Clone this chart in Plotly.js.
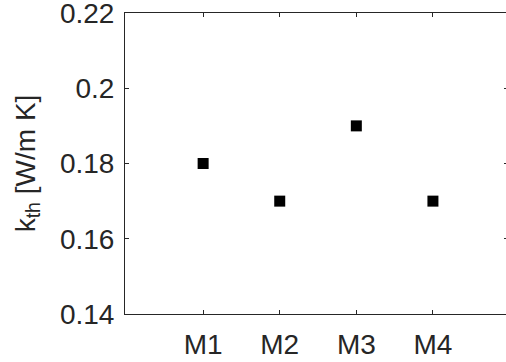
<!DOCTYPE html>
<html>
<head>
<meta charset="utf-8">
<script src="https://cdn.plot.ly/plotly-3.0.1.min.js"></script>
<style>
html,body{margin:0;padding:0;overflow:hidden;background:#fff;}
#chart{width:510px;height:362px;}
</style>
</head>
<body>
<div id="chart"></div>
<script>
const categories = ["M1", "M2", "M3", "M4"];
const positions = [1, 2, 3, 4];
const kth = [0.18, 0.17, 0.19, 0.17];
const yTicks = [0.14, 0.16, 0.18, 0.2, 0.22];
const yTickText = ["0.14", "0.16", "0.18", "0.2", "0.22"];

const axisColor = "#262626";
const fontFamily = "Liberation Sans, Arial, sans-serif";
const fs = 28;

const trace = {
  x: positions,
  y: kth,
  type: "scatter",
  mode: "markers",
  marker: {symbol: "square", size: 11, color: "#000000", line: {width: 0}},
  showlegend: false,
  hoverinfo: "skip"
};

const layout = {
  width: 510,
  height: 362,
  margin: {l: 125, r: 2, t: 13, b: 48, pad: 0},
  paper_bgcolor: "#ffffff",
  plot_bgcolor: "#ffffff",
  font: {family: fontFamily, color: axisColor, size: fs},
  xaxis: {
    range: [-0.02, 4.98],
    tickvals: positions,
    ticktext: categories,
    ticks: "inside",
    ticklen: 4,
    tickwidth: 1,
    tickcolor: axisColor,
    showline: true,
    linecolor: axisColor,
    linewidth: 1,
    mirror: "allticks",
    showgrid: false,
    zeroline: false,
    ticklabelstandoff: 5,
    ticklabeloverflow: "allow",
    tickfont: {family: fontFamily, size: fs, color: axisColor}
  },
  yaxis: {
    range: [0.14, 0.22],
    tickvals: yTicks,
    ticktext: yTickText,
    ticks: "inside",
    ticklen: 4,
    tickwidth: 1,
    tickcolor: axisColor,
    showline: true,
    linecolor: axisColor,
    linewidth: 1,
    mirror: "allticks",
    showgrid: false,
    zeroline: false,
    ticklabelstandoff: 4,
    ticklabeloverflow: "allow",
    tickfont: {family: fontFamily, size: fs, color: axisColor},
    title: {text: "k<sub>th</sub> [W/m K]", font: {family: fontFamily, size: fs, color: axisColor}, standoff: 16}
  }
};

Plotly.newPlot("chart", [trace], layout, {displayModeBar: false, staticPlot: true});
</script>
</body>
</html>
